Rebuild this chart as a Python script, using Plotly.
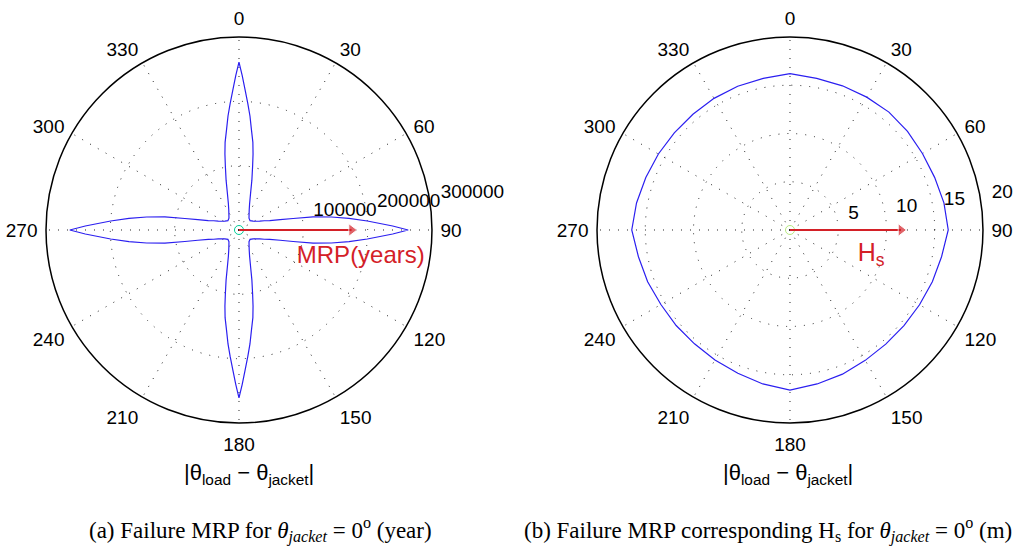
import plotly.graph_objects as go

# ---- data -------------------------------------------------------------
# failure MRP (years) vs |theta_load - theta_jacket| (deg), first quadrant;
# the response is mirrored about the jacket axes for the other quadrants
quad_theta = [0, 1.2, 2.5, 4, 5.5, 7, 9, 10.5, 12, 14.5, 17.5, 22, 27, 34, 40.5, 50, 58,
              63, 67, 70, 73, 76, 78, 80, 82, 84, 86, 88.5, 90]
quad_mrp = [261000, 240000, 218000, 197000, 178000, 158000, 138000, 120000, 102000,
            80000, 60000, 44000, 35000, 28000, 24000, 22500, 26000, 30000, 35000, 42000,
            50000, 66000, 86000, 117000, 145000, 172000, 200000, 239000, 263000]

# significant wave height Hs (m) at failure vs load direction (deg)
hs_theta = [0, 10, 20, 30, 40, 50, 60, 70, 80, 90, 100, 110, 120, 130, 140, 150, 160, 170,
            180, 190, 200, 210, 220, 230, 240, 250, 260, 270, 280, 290, 300, 310, 320, 330,
            340, 350]
hs_val = [16.2, 15.95, 15.9, 15.9, 15.95, 15.9, 15.85, 15.95, 16.2, 16.4, 15.95, 15.7,
          15.5, 15.42, 15.44, 15.6, 15.9, 16.2, 16.6, 16.2, 15.8, 15.55, 15.4, 15.4,
          15.45, 15.7, 15.95, 16.4, 16.15, 15.9, 15.75, 15.65, 15.65, 15.75, 15.85, 15.95]

angle_ticks = [0, 30, 60, 90, 120, 150, 180, 210, 240, 270, 300, 330]
mrp_ticks = [100000, 200000, 300000]
hs_ticks = [5, 10, 15, 20]

MRP_ARROW = 175000
HS_ARROW = 11.5

# ---- full-circle MRP curve built by reflection --------------------------
th_q1 = quad_theta
r_q1 = quad_mrp
th_q2 = [180 - t for t in reversed(quad_theta)]
r_q2 = list(reversed(quad_mrp))
th_q3 = [180 + t for t in quad_theta]
r_q3 = quad_mrp
th_q4 = [360 - t for t in reversed(quad_theta)]
r_q4 = list(reversed(quad_mrp))
mrp_theta = th_q1 + th_q2[1:] + th_q3[1:] + th_q4[1:]
mrp_val = r_q1 + r_q2[1:] + r_q3[1:] + r_q4[1:]

hs_theta_c = hs_theta + [hs_theta[0] + 360]
hs_val_c = hs_val + [hs_val[0]]

RED = "#d42027"
BLUE = "#2b1ff0"
SANS = "Liberation Sans, Arial, Helvetica, sans-serif"
SERIF = "Liberation Serif, Times New Roman, serif"
NB = "\u00a0\u00a0"

fig = go.Figure()

# left: MRP
fig.add_trace(go.Scatterpolar(r=mrp_val, theta=mrp_theta, mode="lines",
                              line=dict(color=BLUE, width=1.2), subplot="polar",
                              showlegend=False, hoverinfo="skip"))
fig.add_trace(go.Scatterpolar(r=mrp_ticks, theta=[82] * len(mrp_ticks), mode="text",
                              text=[NB + str(v) for v in mrp_ticks],
                              textposition="top right",
                              textfont=dict(family=SANS, size=19, color="black"),
                              subplot="polar", showlegend=False, hoverinfo="skip"))
fig.add_trace(go.Scatterpolar(r=[0], theta=[0], mode="markers",
                              marker=dict(symbol="circle-open", size=9,
                                          line=dict(color="#555", width=1)),
                              subplot="polar", showlegend=False, hoverinfo="skip"))
fig.add_trace(go.Scatterpolar(r=[0, MRP_ARROW], theta=[90, 90], mode="lines+markers",
                              line=dict(color=RED, width=2),
                              marker=dict(symbol=["circle", "triangle-right"], size=[0, 11],
                                          color=RED),
                              subplot="polar", showlegend=False, hoverinfo="skip"))
fig.add_trace(go.Scatterpolar(r=[194000], theta=[102.5], mode="text", text=["MRP(years)"],
                              textposition="middle center",
                              textfont=dict(family=SANS, size=24, color=RED),
                              subplot="polar", showlegend=False, hoverinfo="skip"))

# right: Hs
fig.add_trace(go.Scatterpolar(r=hs_val_c, theta=hs_theta_c, mode="lines",
                              line=dict(color=BLUE, width=1.2), subplot="polar2",
                              showlegend=False, hoverinfo="skip"))
fig.add_trace(go.Scatterpolar(r=hs_ticks, theta=[82] * len(hs_ticks), mode="text",
                              text=[NB + str(v) for v in hs_ticks],
                              textposition="top right",
                              textfont=dict(family=SANS, size=19, color="black"),
                              subplot="polar2", showlegend=False, hoverinfo="skip"))
fig.add_trace(go.Scatterpolar(r=[0], theta=[0], mode="markers",
                              marker=dict(symbol="circle-open", size=9,
                                          line=dict(color="#555", width=1)),
                              subplot="polar2", showlegend=False, hoverinfo="skip"))
fig.add_trace(go.Scatterpolar(r=[0, HS_ARROW], theta=[90, 90], mode="lines+markers",
                              line=dict(color=RED, width=2),
                              marker=dict(symbol=["circle", "triangle-right"], size=[0, 11],
                                          color=RED),
                              subplot="polar2", showlegend=False, hoverinfo="skip"))
fig.add_trace(go.Scatterpolar(r=[8.8], theta=[107], mode="text", text=["H<sub>s</sub>"],
                              textposition="middle center",
                              textfont=dict(family=SANS, size=25, color=RED),
                              subplot="polar2", showlegend=False, hoverinfo="skip"))


def polar_layout(xdom, ydom, rmax, rticks):
    return dict(
        domain=dict(x=xdom, y=ydom),
        bgcolor="white",
        angularaxis=dict(rotation=90, direction="clockwise",
                         tickmode="array", tickvals=angle_ticks,
                         ticktext=[str(a) for a in angle_ticks],
                         tickfont=dict(family=SANS, size=19, color="black"),
                         ticks="outside", ticklen=4, tickcolor="rgba(0,0,0,0)",
                         showline=True, linecolor="black", linewidth=1.5,
                         showgrid=True, gridcolor="#222", gridwidth=1,
                         griddash="1px,8px"),
        radialaxis=dict(range=[0, rmax], tickmode="array", tickvals=rticks,
                        showticklabels=False, ticks="", showline=False,
                        showgrid=True, gridcolor="#222", gridwidth=1,
                        griddash="1px,8px"),
    )


axis_label = "|θ<sub>load</sub> − θ<sub>jacket</sub>|"
common = dict(xref="paper", yref="paper", showarrow=False, xanchor="center",
              yanchor="middle")

fig.update_layout(
    width=1020, height=548,
    margin=dict(l=0, r=0, t=0, b=0),
    paper_bgcolor="white",
    polar=polar_layout([0.0451, 0.4235], [0.2281, 0.9325], 300000, mrp_ticks),
    polar2=polar_layout([0.5853, 0.9637], [0.2281, 0.9325], 20, hs_ticks),
    annotations=[
        dict(text=axis_label, x=249 / 1020, y=1 - 474 / 548,
             font=dict(family=SANS, size=22, color="black"), **common),
        dict(text=axis_label, x=788 / 1020, y=1 - 474 / 548,
             font=dict(family=SANS, size=22, color="black"), **common),
        dict(text="(a) Failure MRP for <i>θ<sub>jacket</sub></i> = 0<sup>o</sup> (year)",
             x=260 / 1020, y=1 - 530 / 548,
             font=dict(family=SERIF, size=23, color="black"), **common),
        dict(text="(b) Failure MRP corresponding H<sub>s</sub> for <i>θ<sub>jacket</sub></i>"
                  " = 0<sup>o</sup> (m)",
             x=768 / 1020, y=1 - 530 / 548,
             font=dict(family=SERIF, size=23, color="black"), **common),
    ],
)

fig.write_html("out.html")
